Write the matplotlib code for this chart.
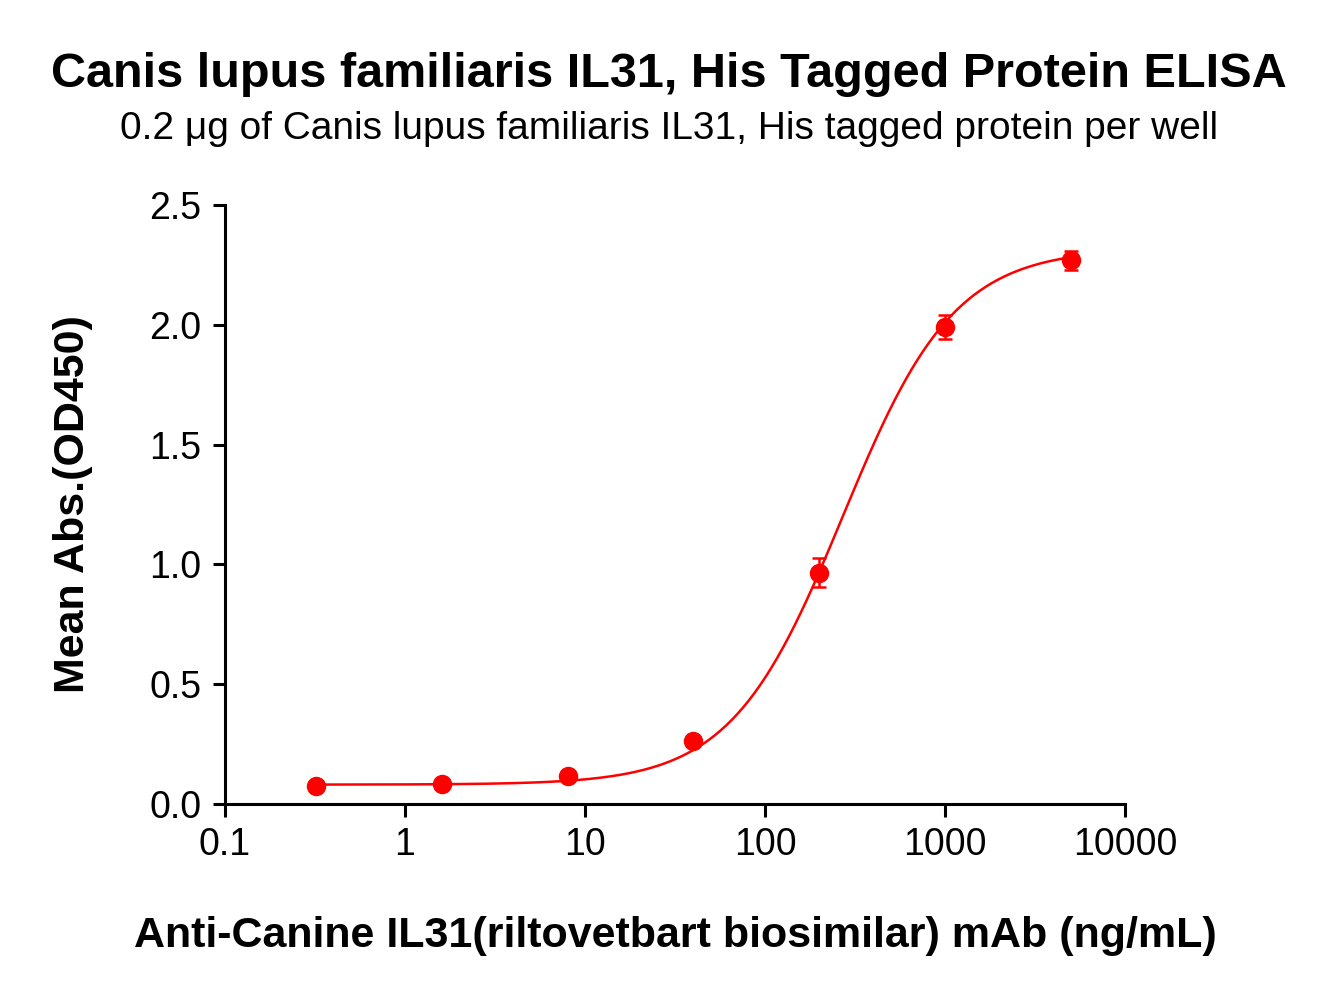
import numpy as np
import matplotlib
matplotlib.use("Agg")
import matplotlib.pyplot as plt

plt.rcParams["font.family"] = ["Liberation Sans", "DejaVu Sans"]

# ── Data ──────────────────────────────────────────────────────────────────────
conc = [0.32, 1.6, 8, 40, 200, 1000, 5000]
od450 = [0.075, 0.083, 0.115, 0.262, 0.965, 1.99, 2.27]
od_err = [0.01, 0.01, 0.012, 0.015, 0.06, 0.05, 0.04]

# 4PL fit parameters: bottom, top, EC50, hill
fit_bottom, fit_top, fit_ec50, fit_hill = 0.08, 2.32, 270.0, 1.4

fig = plt.figure(figsize=(13.38, 9.96), dpi=100)
ax = fig.add_axes([0.168, 0.193, 0.673, 0.601])

xs = np.logspace(np.log10(0.32), np.log10(5000), 400)
ys = fit_bottom + (fit_top - fit_bottom) / (1 + (fit_ec50 / xs) ** fit_hill)
ax.plot(xs, ys, color="#ff0000", lw=1.8)
ax.errorbar(conc, od450, yerr=od_err, fmt="o", color="#ff0000", ms=13,
            capsize=5, elinewidth=1.8, capthick=1.8)

ax.set_xscale("log")
ax.set_xlim(0.1, 10000)
ax.set_ylim(0, 2.5)
ax.set_xticks([0.1, 1, 10, 100, 1000, 10000])
ax.set_xticklabels(["0.1", "1", "10", "100", "1000", "10000"])
ax.set_yticks([0, 0.5, 1.0, 1.5, 2.0, 2.5])
ax.set_yticklabels(["0.0", "0.5", "1.0", "1.5", "2.0", "2.5"])
ax.minorticks_off()
for s in ["top", "right"]:
    ax.spines[s].set_visible(False)
for s in ["left", "bottom"]:
    ax.spines[s].set_linewidth(2.2)
ax.tick_params(width=2.2, length=9, labelsize=27, pad=8)

ax.set_xlabel("Anti-Canine IL31(riltovetbart biosimilar) mAb (ng/mL)",
              fontsize=31, fontweight="bold", labelpad=38)
ax.set_ylabel("Mean Abs.(OD450)", fontsize=31, fontweight="bold", labelpad=40)

fig.text(0.5, 0.913, "Canis lupus familiaris IL31, His Tagged Protein ELISA",
         ha="center", fontsize=35, fontweight="bold")
fig.text(0.5, 0.86, "0.2 μg of Canis lupus familiaris IL31, His tagged protein per well",
         ha="center", fontsize=28)

fig.savefig("out.png", dpi=100)
